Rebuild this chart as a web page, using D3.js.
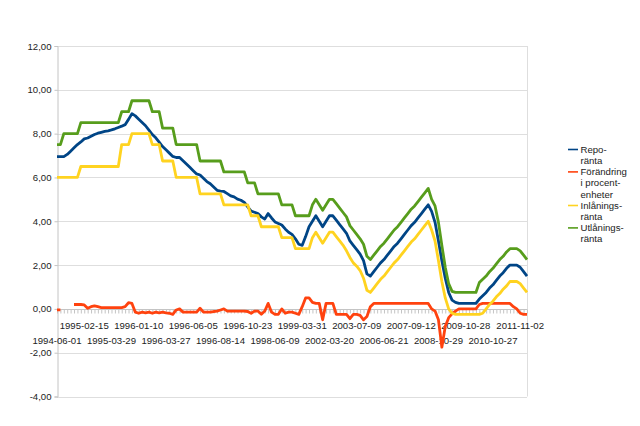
<!DOCTYPE html>
<html>
<head>
<meta charset="utf-8">
<script src="https://cdn.jsdelivr.net/npm/d3@7"></script>
<style>
    body { margin: 0; background: #fff; }
    text { font-family: "Liberation Sans", Arial, sans-serif; fill: #222; }
</style>
</head>
<body>
<div id="chart"></div>
<script>
// tick labels, one for every 8th date in the series
const tickLabels = [
    "1994-06-01", "1995-02-15", "1995-03-29", "1996-01-10", "1996-03-27", "1996-06-05",
    "1996-08-14", "1996-10-23", "1998-06-09", "1999-03-31", "2002-03-20", "2003-07-09",
    "2006-06-21", "2007-09-12", "2008-10-29", "2009-10-28", "2010-10-27", "2011-11-02"
];
const labelStep = 8;

const legendLines = [
    ["Repo-", "ränta"],
    ["Förändring", "i procent-", "enheter"],
    ["Inlånings-", "ränta"],
    ["Utlånings-", "ränta"]
];

const repo = [
    6.95, 6.95, 6.95, 7.05, 7.2, 7.35, 7.5, 7.62, 7.76, 7.8,
    7.88, 7.96, 8.02, 8.06, 8.1, 8.13, 8.17, 8.22, 8.28, 8.34,
    8.41, 8.65, 8.91, 8.81, 8.66, 8.51, 8.36, 8.16, 7.96, 7.81,
    7.61, 7.41, 7.26, 7.11, 6.96, 6.91, 6.91, 6.76, 6.61, 6.46,
    6.31, 6.16, 6.11, 5.96, 5.81, 5.71, 5.56, 5.41, 5.38, 5.36,
    5.26, 5.16, 5.11, 5.01, 4.96, 4.86, 4.66, 4.46, 4.41, 4.35,
    4.2, 4.1, 4.35, 4.15, 3.97, 3.9, 3.83, 3.65, 3.5, 3.4,
    3.2, 2.95, 2.9, 3.3, 3.75, 4.0, 4.25, 4.0, 3.75, 4.0,
    4.25, 4.25, 4.05, 3.85, 3.65, 3.45, 3.1, 2.9, 2.7, 2.5,
    2.2, 1.6, 1.5, 1.7, 1.9, 2.1, 2.25, 2.45, 2.65, 2.85,
    3.0, 3.2, 3.4, 3.6, 3.8, 3.95, 4.15, 4.35, 4.55, 4.75,
    4.45, 3.95, 3.1, 2.2, 1.4, 0.75, 0.4, 0.3, 0.25, 0.25,
    0.25, 0.25, 0.25, 0.25, 0.45, 0.6, 0.75, 0.95, 1.1, 1.3,
    1.5, 1.65, 1.85, 2.0, 2.0, 2.0, 1.9, 1.7, 1.5
];

const change = [
    -0.05, -0.05, null, null, null, 0.2, 0.2, 0.2, 0.18, 0.03,
    0.1, 0.14, 0.1, 0.06, 0.06, 0.06, 0.06, 0.06, 0.06, 0.06,
    0.1, 0.28, 0.25, -0.15, -0.2, -0.15, -0.18, -0.15, -0.2, -0.15,
    -0.18, -0.15, -0.18, -0.2, -0.25, -0.05, 0, -0.15, -0.15, -0.15,
    -0.15, -0.15, 0.03, -0.15, -0.15, -0.15, -0.12, -0.1, -0.05, 0,
    -0.1, -0.1, -0.1, -0.1, -0.1, -0.1, -0.12, -0.2, -0.1, -0.1,
    -0.25, -0.1, 0.25, -0.15, -0.25, -0.25, 0, -0.2, -0.15, -0.15,
    -0.2, -0.25, 0.1, 0.5, 0.5, 0.3, 0.25, 0.25, -0.5, 0.25,
    0.25, 0.25, -0.25, -0.25, -0.25, -0.25, -0.45, -0.25, -0.25, -0.3,
    -0.5, -0.35, 0.1, 0.25, 0.25, 0.25, 0.25, 0.25, 0.25, 0.25,
    0.25, 0.25, 0.25, 0.25, 0.25, 0.25, 0.25, 0.25, 0.25, 0.25,
    0, -0.1, -0.5, -1.75, -0.8, -0.4, -0.23, -0.1, 0, 0,
    0, 0, 0, 0, 0.2, 0.25, 0.25, 0.25, 0.25, 0.25,
    0.25, 0.25, 0.25, 0.25, 0.1, 0, -0.2, -0.25, -0.25
];

const deposit = [
    6.0, 6.0, 6.0, 6.0, 6.0, 6.0, 6.0, 6.5, 6.5, 6.5,
    6.5, 6.5, 6.5, 6.5, 6.5, 6.5, 6.5, 6.5, 6.5, 7.5,
    7.5, 7.5, 8.0, 8.0, 8.0, 8.0, 8.0, 8.0, 7.5, 7.5,
    7.5, 6.75, 6.75, 6.75, 6.75, 6.0, 6.0, 6.0, 6.0, 6.0,
    6.0, 6.0, 5.25, 5.25, 5.25, 5.25, 5.25, 5.25, 5.25, 4.75,
    4.75, 4.75, 4.75, 4.75, 4.75, 4.75, 4.75, 4.25, 4.25, 4.25,
    3.75, 3.75, 3.75, 3.75, 3.75, 3.75, 3.25, 3.25, 3.25, 3.25,
    2.75, 2.75, 2.75, 2.75, 2.75, 3.25, 3.5, 3.25, 3.0, 3.25,
    3.5, 3.5, 3.3, 3.1, 2.9, 2.65, 2.35, 2.1, 1.95, 1.75,
    1.4, 0.85, 0.75, 0.95, 1.15, 1.35, 1.5, 1.7, 1.9, 2.1,
    2.25, 2.45, 2.65, 2.85, 3.05, 3.2, 3.4, 3.6, 3.8, 4.0,
    3.6, 3.1, 2.2, 1.25, 0.5, 0.0, -0.2, -0.25, -0.25, -0.25,
    -0.25, -0.25, -0.25, -0.25, -0.25, -0.2, 0.0, 0.2, 0.35, 0.55,
    0.7, 0.9, 1.05, 1.25, 1.25, 1.25, 1.15, 0.95, 0.75
];

const lending = [
    7.5, 7.5, 8.0, 8.0, 8.0, 8.0, 8.0, 8.5, 8.5, 8.5,
    8.5, 8.5, 8.5, 8.5, 8.5, 8.5, 8.5, 8.5, 8.5, 9.0,
    9.0, 9.0, 9.5, 9.5, 9.5, 9.5, 9.5, 9.5, 9.0, 9.0,
    9.0, 8.25, 8.25, 8.25, 8.25, 7.5, 7.5, 7.5, 7.5, 7.5,
    7.5, 7.5, 6.75, 6.75, 6.75, 6.75, 6.75, 6.75, 6.75, 6.25,
    6.25, 6.25, 6.25, 6.25, 6.25, 6.25, 5.75, 5.75, 5.75, 5.25,
    5.25, 5.25, 5.25, 5.25, 5.25, 5.25, 4.75, 4.75, 4.75, 4.75,
    4.25, 4.25, 4.25, 4.25, 4.25, 4.75, 5.0, 4.75, 4.5, 4.75,
    5.0, 5.0, 4.8, 4.6, 4.4, 4.2, 3.8, 3.6, 3.4, 3.2,
    2.95, 2.4, 2.25, 2.45, 2.65, 2.85, 3.0, 3.2, 3.4, 3.6,
    3.75, 3.95, 4.15, 4.35, 4.55, 4.7, 4.9, 5.1, 5.3, 5.5,
    5.0, 4.7, 3.95, 2.9, 1.9, 1.15, 0.8, 0.75, 0.75, 0.75,
    0.75, 0.75, 0.75, 0.75, 1.2, 1.35, 1.5, 1.7, 1.85, 2.05,
    2.25, 2.4, 2.6, 2.75, 2.75, 2.75, 2.65, 2.45, 2.25
];

const yTicks = [-4, -2, 0, 2, 4, 6, 8, 10, 12];

const series = [
    { values: repo, color: "#004586" },
    { values: change, color: "#ff420e" },
    { values: deposit, color: "#ffd320" },
    { values: lending, color: "#579d1c" }
];

const width = 640, height = 426;
const plot = { left: 57, right: 527, top: 46, bottom: 396.5 };

const fmt = d3.formatLocale({
    decimal: ",", thousands: " ", grouping: [3], currency: ["", ""], minus: "-"
}).format(".2f");

const svg = d3.select("#chart")
    .append("svg")
    .attr("width", width)
    .attr("height", height);

svg.append("rect")
    .attr("width", width)
    .attr("height", height)
    .attr("fill", "#fff");

const xScale = d3.scalePoint()
    .domain(d3.range(repo.length))
    .range([plot.left, plot.right]);

const yScale = d3.scaleLinear()
    .domain([-4, 12])
    .range([plot.bottom, plot.top]);

// grid
svg.append("g")
    .selectAll("line")
    .data(yTicks)
    .join("line")
    .attr("x1", plot.left)
    .attr("x2", plot.right)
    .attr("y1", d => Math.round(yScale(d)) + 0.5)
    .attr("y2", d => Math.round(yScale(d)) + 0.5)
    .attr("stroke", "#dedede");

svg.append("line")
    .attr("x1", plot.right + 0.5)
    .attr("x2", plot.right + 0.5)
    .attr("y1", plot.top)
    .attr("y2", plot.bottom)
    .attr("stroke", "#dedede");

// y axis
const yAxis = svg.append("g")
    .attr("transform", `translate(${plot.left + 0.5},0)`)
    .call(d3.axisLeft(yScale).tickValues(yTicks).tickSize(3).tickPadding(3).tickFormat(fmt))
    .call(g => g.selectAll("path, line").attr("stroke", "#c4c4c4"))
    .call(g => g.selectAll("text")
        .attr("font-size", 9.6)
        .attr("font-family", "Liberation Sans, Arial, sans-serif")
        .attr("fill", "#222"));

// x axis on the zero line
const x0 = Math.round(yScale(0)) + 0.5;
svg.append("g")
    .attr("transform", `translate(0,${x0})`)
    .call(d3.axisBottom(xScale).tickSize(4).tickFormat(""))
    .call(g => g.select(".domain").attr("d", `M${plot.left},0H${plot.right}`))
    .call(g => g.selectAll("path, line").attr("stroke", "#c4c4c4"));

svg.append("g")
    .selectAll("text")
    .data(tickLabels)
    .join("text")
    .attr("x", (d, i) => xScale(i * labelStep))
    .attr("y", (d, i) => x0 + (i % 2 === 1 ? 19.5 : 34.8))
    .attr("text-anchor", "middle")
    .attr("font-size", 9.6)
    .text(d => d);

// lines
const line = d3.line()
    .defined(d => d != null)
    .x((d, i) => xScale(i))
    .y(d => yScale(d));

svg.append("g")
    .selectAll("path")
    .data(series)
    .join("path")
    .attr("fill", "none")
    .attr("stroke", d => d.color)
    .attr("stroke-width", 2.8)
    .attr("stroke-linejoin", "round")
    .attr("d", d => line(d.values));

// legend
const legend = svg.append("g")
    .attr("transform", "translate(568,149.5)");

let row = 0;
series.forEach((s, k) => {
    const g = legend.append("g")
        .attr("transform", `translate(0,${row * 11.2})`);
    g.append("line")
        .attr("x1", 0)
        .attr("x2", 10)
        .attr("stroke", s.color)
        .attr("stroke-width", 1.6);
    g.selectAll("text")
        .data(legendLines[k])
        .join("text")
        .attr("x", 12.5)
        .attr("y", (d, j) => j * 11.2 + 3.4)
        .attr("font-size", 9.6)
        .text(d => d);
    row += legendLines[k].length;
});
</script>
</body>
</html>
